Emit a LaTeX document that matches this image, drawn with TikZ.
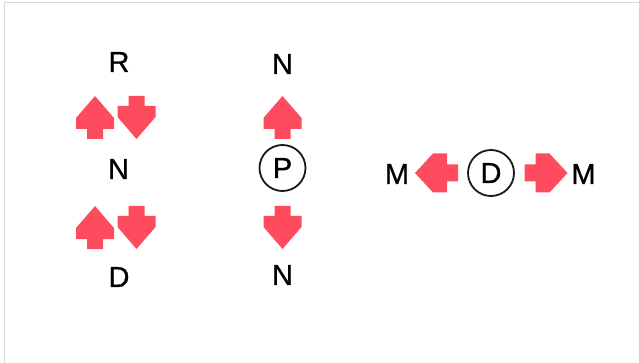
\documentclass[tikz,border=0pt]{standalone}
\usepackage{fontspec}
\setmainfont[FakeBold=0.8]{Liberation Sans}
\definecolor{arrowred}{RGB}{255,75,94}
\definecolor{framegray}{RGB}{218,218,218}
\tikzset{
  letter/.style={inner sep=0pt, font=\fontsize{29}{33}\selectfont},
  circled/.style={letter, circle, draw=black!90, line width=1.8pt, minimum size=46pt},
  arrowup/.pic={\fill[arrowred] (0,-21.5) -- (19,0.5) -- (19,11.5) -- (8,11.5) -- (8,21.5) -- (-8,21.5) -- (-8,11.5) -- (-19,11.5) -- (-19,0.5) -- cycle;},
  arrowdown/.pic={\fill[arrowred] (0,21.5) -- (19,-0.5) -- (19,-11.5) -- (8,-11.5) -- (8,-21.5) -- (-8,-21.5) -- (-8,-11.5) -- (-19,-11.5) -- (-19,-0.5) -- cycle;},
  arrowleft/.pic={\fill[arrowred] (-21.5,0) -- (-3.5,-19.5) -- (10.5,-19.5) -- (10.5,-8.5) -- (21.5,-8.5) -- (21.5,8.5) -- (10.5,8.5) -- (10.5,19.5) -- (-3.5,19.5) -- cycle;},
  arrowright/.pic={\fill[arrowred] (21.5,0) -- (3.5,-19.5) -- (-10.5,-19.5) -- (-10.5,-8.5) -- (-21.5,-8.5) -- (-21.5,8.5) -- (-10.5,8.5) -- (-10.5,19.5) -- (3.5,19.5) -- cycle;}
}
\begin{document}
\begin{tikzpicture}[x=1pt,y=-1pt]
\useasboundingbox (0,0) rectangle (639,363);
\draw[framegray, line width=0.8pt] (4,363) -- (4,2) -- (639,2);
% left column
\node[letter] (R) at (119,62) {R};
\node[letter] (N1) at (118.5,169) {N};
\node[letter] (D1) at (119,277) {D};
\pic at (95,117.5) {arrowup};
\pic at (136.5,117.5) {arrowdown};
\pic at (95,227.5) {arrowup};
\pic at (136.5,227.5) {arrowdown};
% middle column
\node[letter] (N2) at (282.5,64) {N};
\node[circled] (P) at (282.5,168) {P};
\node[letter] (N3) at (282.5,275) {N};
\pic at (282.5,117.5) {arrowup};
\pic at (282.5,227.5) {arrowdown};
% right group
\node[letter] (M1) at (397,174) {M};
\node[circled] (D2) at (491,173) {D};
\node[letter] (M2) at (583.5,174) {M};
\pic at (436.5,173) {arrowleft};
\pic at (546,173) {arrowright};
\end{tikzpicture}
\end{document}
